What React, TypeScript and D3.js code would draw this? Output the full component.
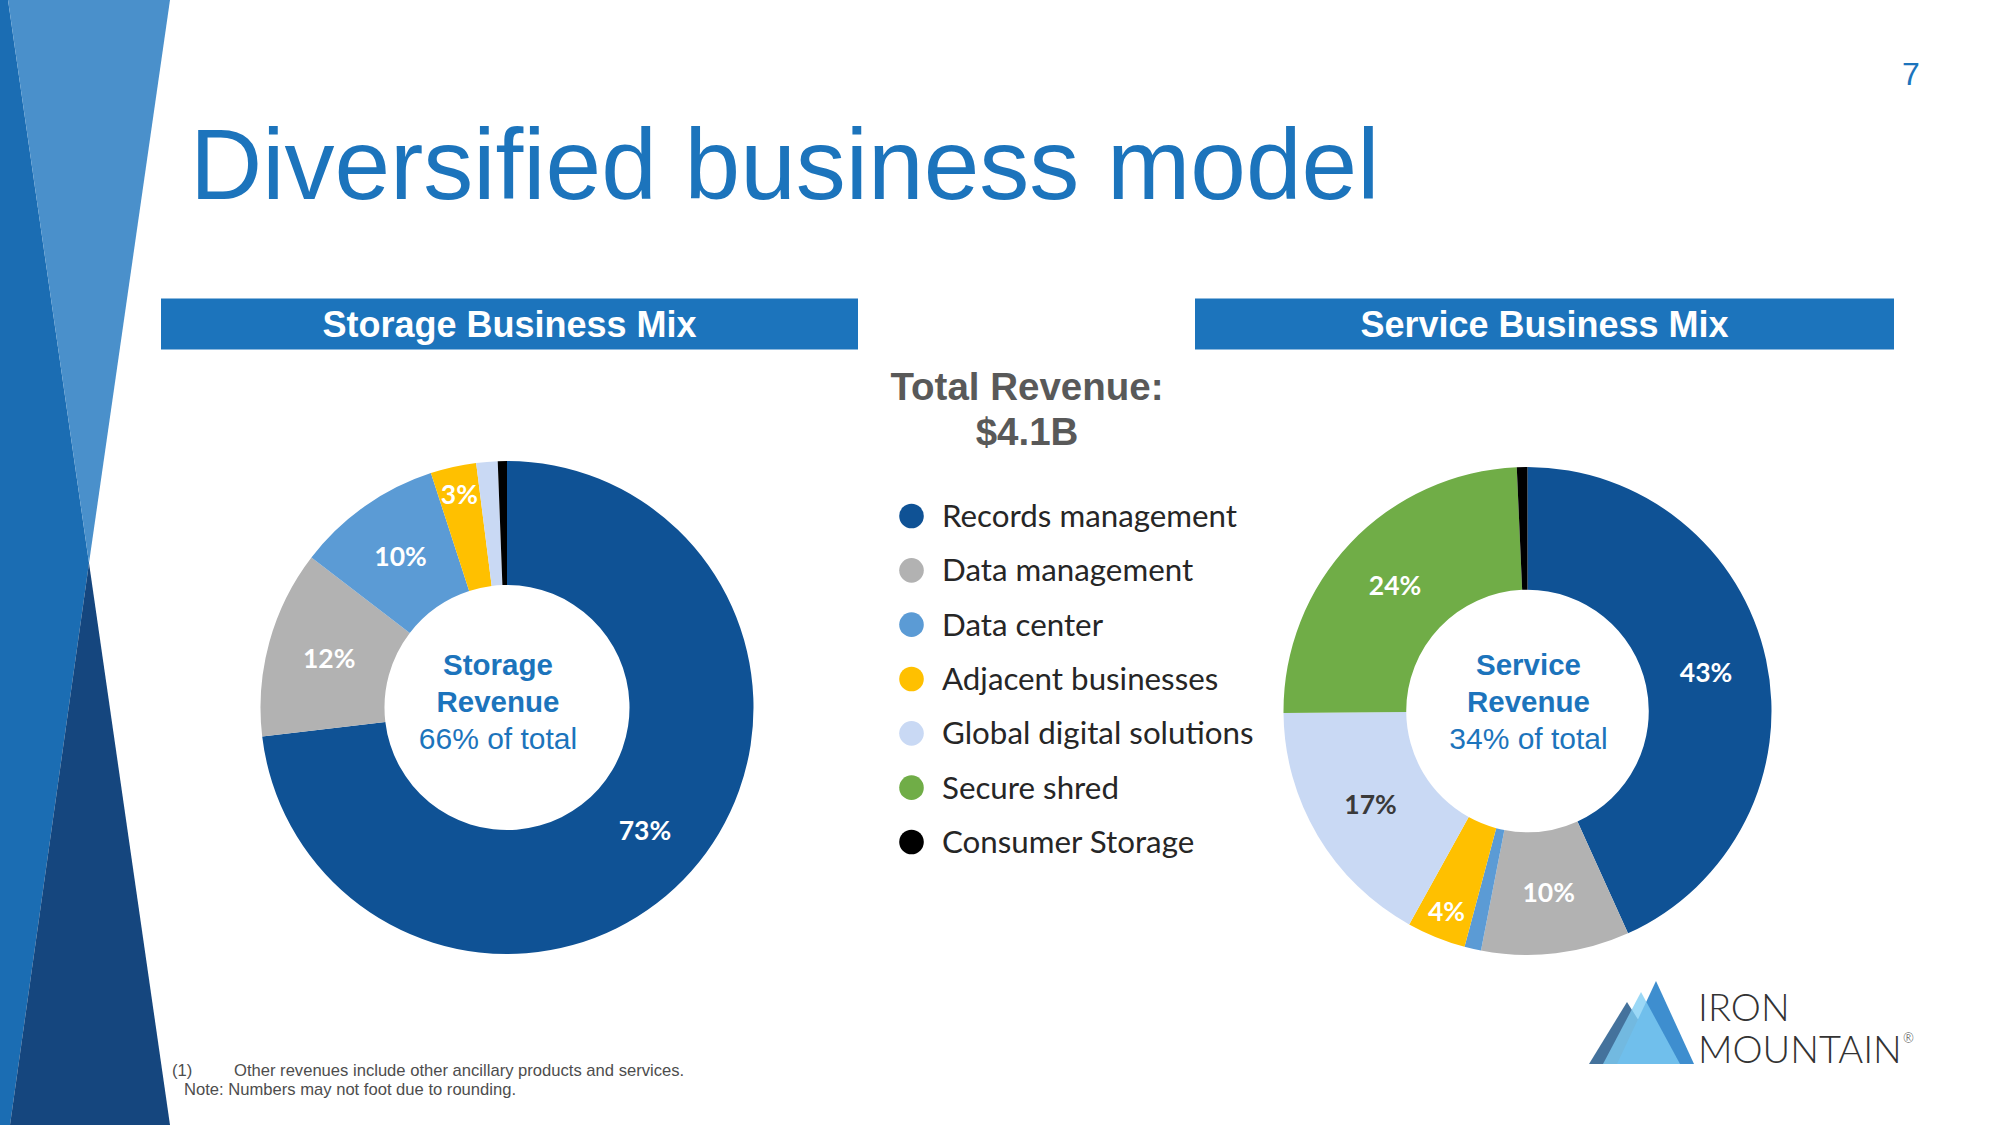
import React from "react";
import * as d3 from "d3";

const categories = [
  "Records management",
  "Data management",
  "Data center",
  "Adjacent businesses",
  "Global digital solutions",
  "Secure shred",
  "Consumer Storage",
];
const categoryColors = ["#0f5295", "#b2b2b2", "#5b9bd5", "#ffc000", "#c9d9f4", "#70ad47", "#000000"];

const storageCategories = ["Records management", "Data management", "Data center", "Adjacent businesses", "Global digital solutions", "Consumer Storage"];
const storageValues = [73.2, 12.3, 9.6, 3.0, 1.4, 0.6];

const serviceCategories = ["Records management", "Data management", "Data center", "Adjacent businesses", "Global digital solutions", "Secure shred", "Consumer Storage"];
const serviceValues = [43.2, 9.8, 1.1, 3.9, 16.8, 24.4, 0.7];

const panelTitles = ["Storage Business Mix", "Service Business Mix"];
const centerTitles = [["Storage", "Revenue"], ["Service", "Revenue"]];
const centerShares = ["66% of total", "34% of total"];
const totalLabel = ["Total Revenue:", "$4.1B"];
const footnotes = ["(1)", "Other revenues include other ancillary products and services.", "Note: Numbers may not foot due to rounding."];

const BLUE = "#1c74bc";
const color = d3.scaleOrdinal<string, string>().domain(categories).range(categoryColors);

type DonutProps = {
  cats: string[];
  values: number[];
  cx: number;
  cy: number;
  r: number;
  textCx: number;
  textCy: number;
  title: string[];
  share: string;
};

function Donut({ cats, values, cx, cy, r, textCx, textCy, title, share }: DonutProps) {
  const data = cats.map((c, i) => ({ cat: c, value: values[i] }));
  const pie = d3.pie<{ cat: string; value: number }>().sort(null).value((d) => d.value);
  const arcs = pie(data);
  const arc = d3.arc<d3.PieArcDatum<{ cat: string; value: number }>>().innerRadius(r * 0.497).outerRadius(r);
  const labelArc = d3.arc<d3.PieArcDatum<{ cat: string; value: number }>>().innerRadius(r * 0.775).outerRadius(r);
  const total = d3.sum(values);
  return (
    <g>
      <g transform={`translate(${cx},${cy})`}>
        {arcs.map((a, i) => (
          <path key={i} d={arc(a) || ""} fill={color(a.data.cat)} />
        ))}
        {arcs.map((a, i) => {
          const pct = (a.data.value / total) * 100;
          if (pct < 2.5) return null;
          const [x, y] = pct < 5 ? labelArc.centroid(a) : arc.centroid(a);
          const fill = a.data.cat === "Global digital solutions" ? "#3a3a3a" : "#ffffff";
          return (
            <text
              key={"l" + i}
              x={x}
              y={y}
              dy="0.36em"
              textAnchor="middle"
              fontFamily="Lato, 'Open Sans', sans-serif"
              fontWeight={700}
              fontSize={26.5}
              fill={fill}
            >
              {Math.round(pct)}%
            </text>
          );
        })}
      </g>
      <g fontFamily="'Liberation Sans', Arial, sans-serif" fill={BLUE} textAnchor="middle">
        <text x={textCx} y={textCy - 37} fontSize={29.5} fontWeight={700}>{title[0]}</text>
        <text x={textCx} y={textCy} fontSize={29.5} fontWeight={700}>{title[1]}</text>
        <text x={textCx} y={textCy + 37} fontSize={30}>{share}</text>
      </g>
    </g>
  );
}

export default function App() {
  const legendY = d3.scalePoint<string>().domain(categories).range([516, 842]);
  return (
    <svg
      width={2000}
      height={1125}
      viewBox="0 0 2000 1125"
      style={{ position: "fixed", left: 0, top: 0, background: "#ffffff" }}
    >
      <rect x={0} y={0} width={2000} height={1125} fill="#ffffff" />
      {/* left decoration */}
      <polygon points="0,0 8,0 89,563 10,1125 0,1125" fill="#1b6db3" />
      <polygon points="8,0 170,0 89,563" fill="#4a90cb" />
      <polygon points="89,563 170,1125 10,1125" fill="#15467e" />

      {/* title */}
      <text x={190} y={199} fontFamily="'Liberation Sans', Arial, sans-serif" fontSize={100} fill={BLUE}>
        Diversified business model
      </text>
      <text x={1911} y={85} textAnchor="middle" fontFamily="'Liberation Sans', Arial, sans-serif" fontSize={32} fill={BLUE}>
        7
      </text>

      {/* panel headers */}
      <rect x={161} y={298.5} width={697} height={51} fill={BLUE} />
      <rect x={1195} y={298.5} width={699} height={51} fill={BLUE} />
      <g fontFamily="'Liberation Sans', Arial, sans-serif" fontWeight={700} fontSize={36} fill="#ffffff" textAnchor="middle">
        <text x={509.5} y={336.5}>{panelTitles[0]}</text>
        <text x={1544.5} y={336.5}>{panelTitles[1]}</text>
      </g>

      {/* donuts */}
      <Donut cats={storageCategories} values={storageValues} cx={507} cy={707.5} r={246.5} textCx={498} textCy={711.5} title={centerTitles[0]} share={centerShares[0]} />
      <Donut cats={serviceCategories} values={serviceValues} cx={1527.5} cy={711} r={244} textCx={1528.5} textCy={711.5} title={centerTitles[1]} share={centerShares[1]} />

      {/* total revenue */}
      <g fontFamily="'Liberation Sans', Arial, sans-serif" fontWeight={700} fontSize={38.5} fill="#595959" textAnchor="middle">
        <text x={1027} y={400}>{totalLabel[0]}</text>
        <text x={1027} y={445}>{totalLabel[1]}</text>
      </g>

      {/* legend */}
      <g>
        {categories.map((c) => (
          <g key={c}>
            <circle cx={911.5} cy={legendY(c)} r={12.3} fill={color(c)} />
            <text
              x={942}
              y={legendY(c)}
              dy="0.35em"
              fontFamily="Lato, 'Open Sans', sans-serif"
              fontSize={31.3}
              fill="#262626"
            >
              {c}
            </text>
          </g>
        ))}
      </g>

      {/* footnotes */}
      <g fontFamily="'Liberation Sans', Arial, sans-serif" fontSize={16.6} fill="#4d4d4d">
        <text x={172} y={1076}>{footnotes[0]}</text>
        <text x={234} y={1076}>{footnotes[1]}</text>
        <text x={184} y={1095}>{footnotes[2]}</text>
      </g>

      {/* logo */}
      <g>
        <polygon points="1589,1064 1627,1002 1666,1064" fill="#44729c" />
        <polygon points="1617,1064 1656,981 1694,1064" fill="#3e8ecf" />
        <polygon points="1603,1064 1641,992 1680,1064" fill="#7fcdf3" opacity={0.78} />
      </g>
      <g fontFamily="Lato, 'Open Sans', sans-serif" fontWeight={300} fill="#333333">
        <text x={1698} y={1020.5} fontSize={38}>IRON</text>
        <text x={1698} y={1062.5} fontSize={38}>MOUNTAIN</text>
        <text x={1903} y={1043} fontSize={13}>®</text>
      </g>
    </svg>
  );
}
